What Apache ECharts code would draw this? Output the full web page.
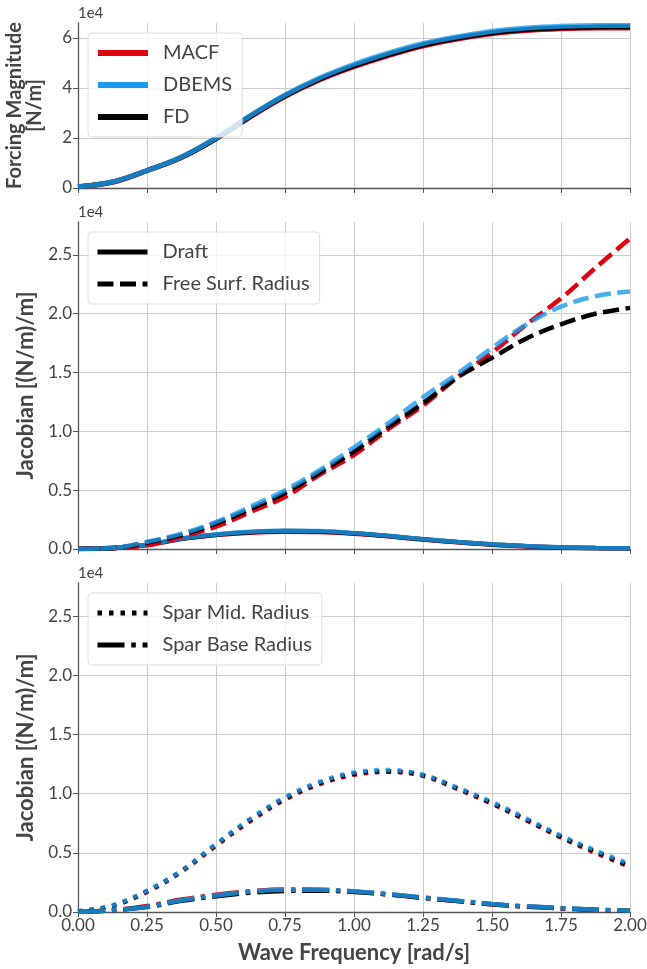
<!DOCTYPE html>
<html><head><meta charset="utf-8">
<script src="https://cdn.jsdelivr.net/npm/echarts@6/dist/echarts.min.js"></script>
<style>html,body{margin:0;padding:0;background:#fff}#c{width:647px;height:969px}</style>
</head><body><div id="c"></div>
<script>
// ---- data ----
const freq = [0, 0.125, 0.25, 0.375, 0.5, 0.625, 0.75, 0.875, 1.0, 1.125, 1.25, 1.375, 1.5, 1.625, 1.75, 1.875, 2.0];
// Forcing magnitude [N/m]
const forceMACF  = [500, 2300, 6900, 12200, 19700, 28500, 36600, 43200, 48500, 53000, 56800, 59600, 61700, 63000, 63700, 64000, 64000];
const forceFD    = [500, 2400, 7000, 12300, 19800, 28800, 36900, 43600, 48900, 53400, 57200, 60000, 62100, 63400, 64100, 64400, 64500];
const forceDBEMS = [500, 2400, 7000, 12400, 20000, 29000, 37200, 44000, 49500, 54000, 57800, 60500, 62700, 64000, 64700, 65000, 65000];
// Jacobian: Draft
const draftMACF  = [0, 80, 330, 850, 1180, 1380, 1460, 1440, 1300, 1080, 800, 570, 370, 230, 130, 80, 60];
const draftFD    = [0, 90, 350, 880, 1220, 1430, 1520, 1490, 1330, 1100, 820, 590, 390, 240, 130, 80, 60];
const draftDBEMS = [0, 100, 360, 900, 1240, 1460, 1550, 1520, 1350, 1120, 840, 600, 400, 250, 140, 80, 60];
// Jacobian: Free Surf. Radius
const fsrMACF  = [0, 50, 340, 1050, 1900, 3150, 4420, 6300, 8000, 10200, 12200, 14600, 16700, 19100, 21300, 23900, 26400];
const fsrFD    = [0, 70, 550, 1200, 2170, 3400, 4760, 6500, 8300, 10400, 12400, 14600, 16250, 17900, 19100, 20000, 20500];
const fsrDBEMS = [0, 80, 620, 1300, 2300, 3600, 5000, 6700, 8650, 10700, 12900, 14900, 17100, 19100, 20600, 21500, 21900];
// Jacobian: Spar Mid. Radius
const midMACF  = [50, 500, 1700, 3400, 5600, 7700, 9500, 10800, 11600, 11850, 11500, 10400, 9150, 7750, 6300, 5000, 3800];
const midFD    = [50, 520, 1750, 3450, 5700, 7800, 9600, 10900, 11700, 11900, 11550, 10450, 9200, 7800, 6350, 5100, 3900];
const midDBEMS = [50, 550, 1800, 3500, 5750, 7900, 9700, 11000, 11800, 12000, 11600, 10500, 9300, 7900, 6450, 5200, 4050];
// Jacobian: Spar Base Radius
const baseMACF  = [0, 160, 500, 1050, 1450, 1750, 1900, 1880, 1740, 1480, 1200, 920, 640, 450, 300, 180, 100];
const baseFD    = [0, 140, 420, 950, 1330, 1630, 1780, 1800, 1700, 1480, 1200, 930, 660, 460, 320, 190, 100];
const baseDBEMS = [0, 150, 450, 1000, 1400, 1720, 1880, 1880, 1760, 1520, 1240, 960, 680, 480, 340, 200, 110];

const xTicks = ['0.00','0.25','0.50','0.75','1.00','1.25','1.50','1.75','2.00'];

// ---- styling ----
const RED = '#e0000f', BLUE = '#1a9bf0', BLACK = '#000000';
const FONT = 'Lato';
const TXT = '#444';
const pair = (ys) => freq.map((x, i) => [x, ys[i]]);
const LW = 4.5;
const DASH = [16, 6.5];
const DOT = [4.5, 7];
const DASHDOT = [27, 6.8, 4.5, 6.8];
const BOP = 0.8;

function line(name, grid, ys, color, type, width, opacity) {
  return {
    type: 'line', name: name, xAxisIndex: grid, yAxisIndex: grid,
    data: ys ? pair(ys) : [], showSymbol: false, symbol: 'none', smooth: 0.35,
    color: color,
    lineStyle: { color: color, width: width, type: type, opacity: opacity == null ? 1 : opacity },
    silent: true, z: 2
  };
}

const grids = [
  { left: 78, right: 17, top: 23, height: 165, outerBoundsMode: 'none', containLabel: false },
  { left: 78, right: 17, top: 222, height: 327, outerBoundsMode: 'none', containLabel: false },
  { left: 78, right: 17, top: 583, height: 329, outerBoundsMode: 'none', containLabel: false }
];

function xAxis(i) {
  return {
    type: 'value', gridIndex: i, min: 0, max: 2, interval: 0.25,
    axisLine: { show: true, onZero: false, lineStyle: { color: '#555', width: 1.3 } },
    axisTick: { show: true, length: 5, lineStyle: { color: '#555' } },
    axisLabel: {
      show: i === 2, fontFamily: FONT, fontSize: 17, color: TXT, margin: 5,
      formatter: (v) => xTicks[Math.round(v / 0.25)]
    },
    splitLine: { show: true, lineStyle: { color: '#cccccc', width: 1 } },
    name: i === 2 ? 'Wave Frequency [rad/s]' : '',
    nameLocation: 'middle', nameGap: 30,
    nameTextStyle: { fontFamily: FONT, fontSize: 22, fontWeight: 'bold', color: TXT }
  };
}

function yAxis(i) {
  const top = i === 0;
  return {
    type: 'value', gridIndex: i, min: 0, max: top ? 66000 : 27800, interval: top ? 20000 : 5000,
    axisLine: { show: true, lineStyle: { color: '#555', width: 1.3 } },
    axisTick: { show: true, length: 5, lineStyle: { color: '#555' } },
    axisLabel: {
      fontFamily: FONT, fontSize: 17, color: TXT, margin: 6, showMaxLabel: false,
      formatter: (v) => top ? String(Math.round(v / 1e4)) : (v / 1e4).toFixed(1)
    },
    splitLine: { show: true, showMaxLine: false, lineStyle: { color: '#cccccc', width: 1 } },
    name: top ? 'Forcing Magnitude\n[N/m]' : 'Jacobian [(N/m)/m]',
    nameLocation: 'middle', nameGap: top ? 33 : 41, nameRotate: 90,
    nameTextStyle: { fontFamily: FONT, fontSize: top ? 20 : 22, fontWeight: 'bold', color: TXT, lineHeight: 20 }
  };
}

const legendBase = {
  orient: 'vertical', left: 88, itemWidth: 50, itemHeight: 14, itemGap: 12,
  padding: [10, 10, 10, 7], backgroundColor: 'rgba(255,255,255,0.8)',
  borderColor: '#dddddd', borderWidth: 1, borderRadius: 4,
  textStyle: { fontFamily: FONT, fontSize: 20, color: TXT, padding: [0, 0, 0, 10] },
  itemStyle: { opacity: 0 },
  selectedMode: false
};

const series = [
  // top
  line('MACF', 0, forceMACF, RED, 'solid', 5),
  line('FD', 0, forceFD, BLACK, 'solid', 5),
  line('DBEMS', 0, forceDBEMS, BLUE, 'solid', 5, BOP),
  // middle
  line('MACF draft', 1, draftMACF, RED, 'solid', LW),
  line('FD draft', 1, draftFD, BLACK, 'solid', LW),
  line('DBEMS draft', 1, draftDBEMS, BLUE, 'solid', LW, BOP),
  line('MACF fsr', 1, fsrMACF, RED, DASH, LW),
  line('FD fsr', 1, fsrFD, BLACK, DASH, LW),
  line('DBEMS fsr', 1, fsrDBEMS, BLUE, DASH, LW, BOP),
  line('Draft', 1, null, BLACK, 'solid', LW),
  line('Free Surf. Radius', 1, null, BLACK, DASH, LW),
  // bottom
  line('MACF mid', 2, midMACF, RED, DOT, LW),
  line('FD mid', 2, midFD, BLACK, DOT, LW),
  line('DBEMS mid', 2, midDBEMS, BLUE, DOT, LW, BOP),
  line('MACF base', 2, baseMACF, RED, DASHDOT, LW),
  line('FD base', 2, baseFD, BLACK, DASHDOT, LW),
  line('DBEMS base', 2, baseDBEMS, BLUE, DASHDOT, LW, BOP),
  line('Spar Mid. Radius', 2, null, BLACK, DOT, LW),
  line('Spar Base Radius', 2, null, BLACK, DASHDOT, LW)
];

const chart = echarts.init(document.getElementById('c'), null, { renderer: 'canvas' });
chart.setOption({
  animation: false,
  backgroundColor: '#ffffff',
  grid: grids,
  xAxis: [xAxis(0), xAxis(1), xAxis(2)],
  yAxis: [yAxis(0), yAxis(1), yAxis(2)],
  legend: [
    Object.assign({}, legendBase, { top: 33, data: ['MACF', 'DBEMS', 'FD'],
      lineStyle: { width: 6, opacity: 1 } }),
    Object.assign({}, legendBase, { top: 232, data: ['Draft', 'Free Surf. Radius'],
      lineStyle: { width: 5, opacity: 1 } }),
    Object.assign({}, legendBase, { top: 593, data: ['Spar Mid. Radius', 'Spar Base Radius'],
      lineStyle: { width: 5, opacity: 1 } })
  ],
  graphic: [
    { type: 'text', left: 78, top: 6, style: { text: '1e4', font: '15px ' + FONT, fill: TXT } },
    { type: 'text', left: 78, top: 205, style: { text: '1e4', font: '15px ' + FONT, fill: TXT } },
    { type: 'text', left: 78, top: 566, style: { text: '1e4', font: '15px ' + FONT, fill: TXT } }
  ],
  series: series
});
</script>
</body></html>
